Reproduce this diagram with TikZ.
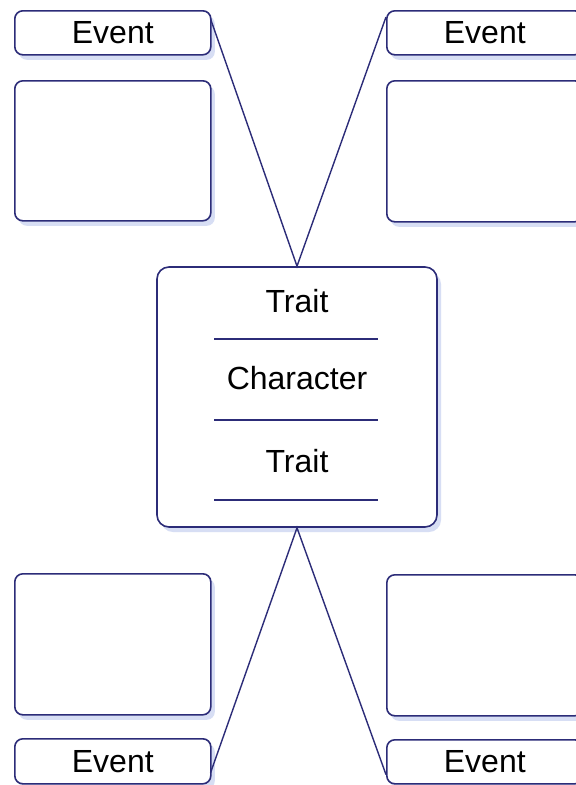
\documentclass[tikz,border=0pt]{standalone}
\usepackage{fontspec}
\setmainfont{Liberation Sans}
\usetikzlibrary{calc,shadows}
\definecolor{navy}{RGB}{44,44,120}
\definecolor{shade}{RGB}{205,214,242}
\tikzset{
  box/.style={draw=navy, line width=1.6pt, rounded corners=8pt, fill=white,
    anchor=north west, inner sep=0pt, minimum width=196pt,
    drop shadow={shadow xshift=4pt, shadow yshift=-5pt, fill=shade, opacity=0.8}},
  eventbox/.style={box, minimum height=44pt, font=\fontsize{32}{36}\selectfont},
  notebox/.style={box, minimum height=141pt},
  hub/.style={draw=navy, line width=1.6pt, rounded corners=12pt, fill=white,
    inner sep=0pt, minimum width=280pt, minimum height=260pt,
    drop shadow={shadow xshift=4pt, shadow yshift=-5pt, fill=shade, opacity=0.8}},
  label/.style={font=\fontsize{32}{36}\selectfont, inner sep=0pt},
  link/.style={draw=navy, line width=1.4pt},
  rule/.style={draw=navy, line width=1.6pt}
}
\begin{document}
\begin{tikzpicture}[x=1pt, y=-1pt]
  \useasboundingbox (0,0) rectangle (576,785);
  \clip (0,0) rectangle (576,785);
  \fill[white] (0,0) rectangle (576,785);

  % event and note boxes in the four corners
  \node[eventbox] (evTL) at (14,10) {Event};
  \node[notebox, minimum height=140pt] (noteTL) at (14,80) {};
  \node[eventbox] (evTR) at (386,10) {Event};
  \node[notebox] (noteTR) at (386,80) {};
  \node[notebox] (noteBL) at (14,573) {};
  \node[eventbox, minimum height=45pt] (evBL) at (14,738) {Event};
  \node[notebox] (noteBR) at (386,574) {};
  \node[eventbox, minimum height=44pt] (evBR) at (386,739) {Event};

  % central character box
  \node[hub] (hub) at (297,397) {};
  \node[label] (t1) at (297,301) {Trait};
  \node[label] (ch) at (297,378) {Character};
  \node[label] (t2) at (297,461) {Trait};
  \coordinate (r1a) at (214,339); \coordinate (r1b) at (378,339);
  \coordinate (r2a) at (214,420); \coordinate (r2b) at (378,420);
  \coordinate (r3a) at (214,500); \coordinate (r3b) at (378,500);
  \draw[rule] (r1a) -- (r1b);
  \draw[rule] (r2a) -- (r2b);
  \draw[rule] (r3a) -- (r3b);

  % connectors from the hub to the events
  \draw[link] ($(evTL.north east)+(-1,9)$) -- (hub.north) -- ($(evTR.north west)+(0,7)$);
  \draw[link] ($(evBL.south east)+(-1,-12)$) -- (hub.south) -- ($(evBR.south west)+(0,-10)$);
\end{tikzpicture}
\end{document}
